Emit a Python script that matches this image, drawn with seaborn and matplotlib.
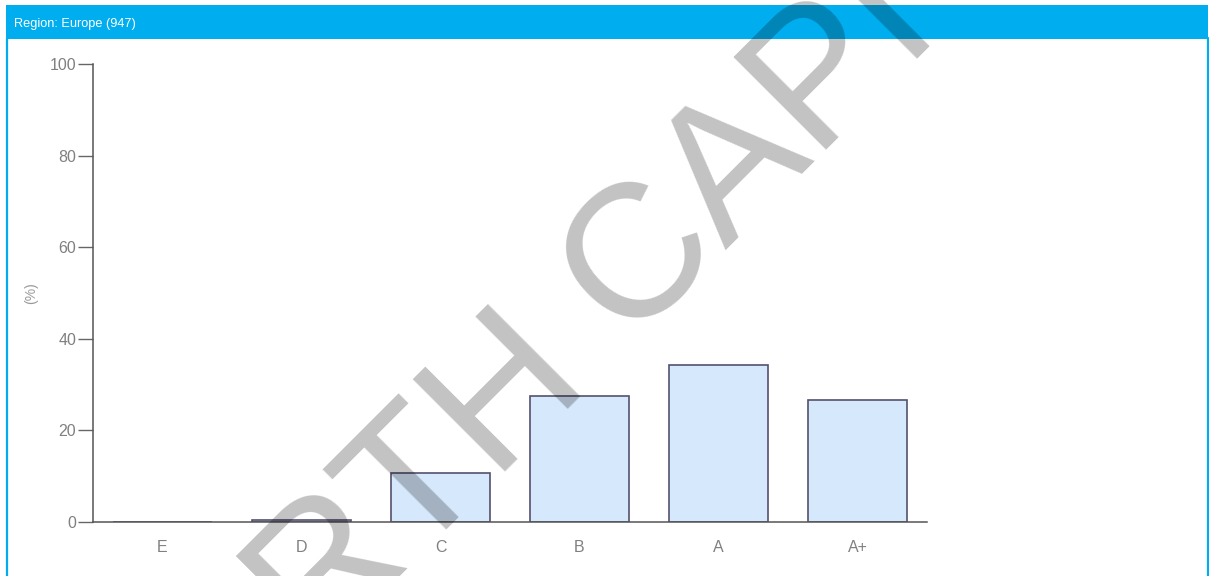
import matplotlib
matplotlib.use("Agg")
import matplotlib.pyplot as plt
import seaborn as sns
from matplotlib.patches import Rectangle
from matplotlib.lines import Line2D

# ---- data ----
categories = ["E", "D", "C", "B", "A", "A+"]
values = [0.0, 0.5, 10.6, 27.5, 34.3, 26.6]
yticks = [0, 20, 40, 60, 80, 100]
header_text = "Region: Europe (947)"
ylabel = "(%)"
watermark = "NORTH CAPITAL"

sns.set_style("white")
plt.rcParams["font.family"] = ["Liberation Sans", "DejaVu Sans"]

W, H = 1209, 576
fig = plt.figure(figsize=(W / 100, H / 100), dpi=100)
fig.patch.set_facecolor("white")

def fx(px):
    return px / W

def fy(py):
    return 1 - py / H

# header band and frame
blue = "#00AEEF"
fig.patches.append(Rectangle((fx(6), fy(38.5)), fx(1208) - fx(6), fy(5) - fy(38.5),
                             transform=fig.transFigure, facecolor=blue, edgecolor="none", zorder=1))
fig.lines.append(Line2D([fx(7), fx(7)], [fy(38), fy(576)], transform=fig.transFigure,
                        color=blue, lw=1.6, zorder=1))
fig.lines.append(Line2D([fx(1207.5), fx(1207.5)], [fy(38), fy(576)], transform=fig.transFigure,
                        color=blue, lw=1.6, zorder=1))
fig.text(fx(14), fy(27), header_text, color="white", fontsize=9.2, ha="left",
         va="baseline", zorder=2)

# axes
ax = fig.add_axes([fx(93), fy(522), fx(927) - fx(93), fy(64) - fy(522)])
sns.barplot(x=categories, y=values, order=categories, color="#D6E8FC", saturation=1,
            edgecolor="#55506F", linewidth=1.2, width=0.71, ax=ax, zorder=2)
ax.set_ylim(0, 100)
ax.set_xlim(-0.5, len(categories) - 0.5)
ax.set_yticks(yticks)
ax.set_yticklabels([str(t) for t in yticks])
ax.set_xlabel("")
ax.set_ylabel(ylabel, color="#999999", fontsize=10)
ax.yaxis.set_label_coords((38 - 93) / (927 - 93), 0.5)

for s in ["top", "right"]:
    ax.spines[s].set_visible(False)
for s in ["left", "bottom"]:
    ax.spines[s].set_color("#555555")
    ax.spines[s].set_linewidth(1.1)

ax.tick_params(axis="y", length=11, width=1.0, color="#666666", pad=1,
               labelcolor="#808080", labelsize=11.5, left=True)
ax.tick_params(axis="x", length=0, pad=13, labelcolor="#808080", labelsize=11.5)

# watermark
fig.text(fx(115.5), fy(860.5), watermark, rotation=45, rotation_mode="anchor",
         ha="left", va="baseline", fontsize=137, color="black", alpha=0.24, zorder=10)

fig.savefig("out.png", dpi=100)
